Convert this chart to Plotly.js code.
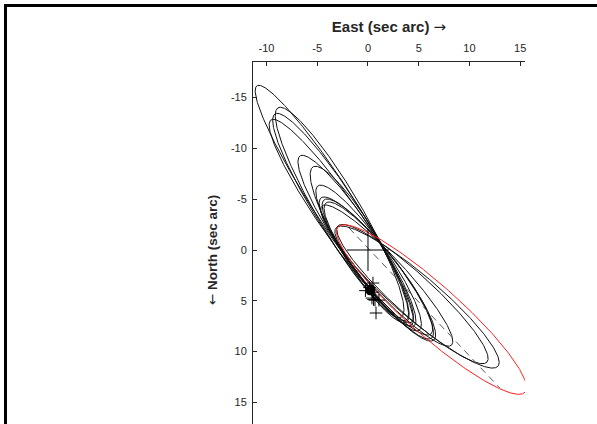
<!DOCTYPE html>
<html>
<head>
<meta charset="utf-8">
<script src="https://cdn.plot.ly/plotly-3.0.1.min.js"></script>
<style>
  html, body { margin: 0; padding: 0; background: #fff; overflow: hidden; }
  #chart { position: absolute; left: 0; top: 0; width: 597px; height: 440px; }
  #frame { position: absolute; left: 4px; top: 4px; width: 593px; height: 420px;
           border-left: 3px solid #000; border-top: 3px solid #000;
           box-sizing: border-box; pointer-events: none; }
</style>
</head>
<body>
<div id="chart"></div>
<div id="frame"></div>
<script>
// Candidate apparent orbits (arcsec). Each orbit is given by the two ends of its
// major axis (north-west end / south-east end) and its semi-minor axis.
const orbitEndAX = [-10.94, -8.87, -9.17, -9.56, -6.70, -5.42, -4.93, -4.63, -4.33, -4.14, -4.53, -2.96, -3.15];
const orbitEndAY = [-16.16, -13.99, -13.39, -12.80, -9.26, -8.18, -6.31, -5.12, -4.93, -4.63, -4.33, -2.36, -2.17];
const orbitEndBX = [4.29, 3.28, 3.77, 4.31, 4.52, 3.78, 5.05, 6.19, 6.27, 6.48, 8.23, 11.72, 12.81];
const orbitEndBY = [7.39, 6.60, 6.90, 7.09, 7.49, 7.09, 7.88, 8.28, 8.67, 8.87, 9.36, 11.03, 11.43];
const orbitMinor = [1.97, 2.12, 2.05, 1.95, 1.84, 1.90, 1.80, 1.82, 1.82, 1.82, 1.77, 1.97, 2.12];

// Adopted orbit (red)
const bestEndA = [-2.96, -2.27];
const bestEndB = [15.47, 13.99];
const bestMinor = 2.51;

// Line of apsides of the adopted orbit
const apsidesX = [-1.87, 13.0];
const apsidesY = [-2.17, 13.6];

// Measured positions of the companion
const obsX = [0.49, -0.25, 0.45, 0.15, 0.39, 0.69, 1.08, 0.55, 0.79];
const obsY = [3.25, 4.00, 4.15, 3.70, 4.73, 4.93, 4.93, 4.88, 6.20];
// Dense group of measurements
const clumpX = [0.22, 0.32, 0.25, 0.30, 0.20, 0.27];
const clumpY = [3.88, 3.92, 4.02, 3.98, 4.05, 3.80];

// Primary star
const primaryX = [0];
const primaryY = [0];

const xTicks = [-10, -5, 0, 5, 10, 15];
const xTickText = ['-10', '-5', '0', '5', '10', '15'];
const yTicks = [-15, -10, -5, 0, 5, 10, 15];
const yTickText = ['-15', '-10', '-5', '0', '5', '10', '15'];

function ellipse(ax, ay, bx, by, minor, out) {
  const cx = (ax + bx) / 2, cy = (ay + by) / 2;
  const dx = bx - ax, dy = by - ay;
  const len = Math.hypot(dx, dy);
  const a = len / 2, ux = dx / len, uy = dy / len;
  const xs = out ? out.x : [], ys = out ? out.y : [];
  for (let i = 0; i <= 360; i++) {
    const t = i * Math.PI / 180;
    const c = Math.cos(t) * a, s = Math.sin(t) * minor;
    xs.push(cx + c * ux - s * uy);
    ys.push(cy + c * uy + s * ux);
  }
  xs.push(null); ys.push(null);
  return { x: xs, y: ys };
}

const family = { x: [], y: [] };
for (let i = 0; i < orbitEndAX.length; i++) {
  ellipse(orbitEndAX[i], orbitEndAY[i], orbitEndBX[i], orbitEndBY[i], orbitMinor[i], family);
}
const best = ellipse(bestEndA[0], bestEndA[1], bestEndB[0], bestEndB[1], bestMinor);

const traces = [
  { type: 'scatter', mode: 'lines', x: family.x, y: family.y,
    line: { color: '#111', width: 1 }, hoverinfo: 'skip', connectgaps: false },
  { type: 'scatter', mode: 'lines', x: best.x, y: best.y,
    line: { color: '#ff2020', width: 1 }, hoverinfo: 'skip' },
  { type: 'scatter', mode: 'lines', x: apsidesX, y: apsidesY,
    line: { color: '#5a5a5a', width: 1, dash: '7px,5px' }, hoverinfo: 'skip' },
  { type: 'scatter', mode: 'markers', x: clumpX, y: clumpY,
    marker: { symbol: 'circle', size: 8, color: '#000', line: { width: 0 } }, hoverinfo: 'skip' },
  { type: 'scatter', mode: 'markers', x: obsX, y: obsY,
    marker: { symbol: 'cross-thin-open', size: 9, color: '#000', line: { color: '#000', width: 1 } }, hoverinfo: 'skip' },
  { type: 'scatter', mode: 'markers', x: primaryX, y: primaryY,
    marker: { symbol: 'cross-thin-open', size: 30, color: '#000', line: { color: '#000', width: 1 } }, hoverinfo: 'skip' }
];

const FONT = 'Liberation Sans, Arial, Helvetica, sans-serif';
const axisCommon = {
  tickmode: 'array',
  ticks: 'inside', ticklen: 4, tickwidth: 1, tickcolor: '#262626',
  showline: true, linecolor: '#262626', linewidth: 1,
  showgrid: false, zeroline: false, automargin: false,
  tickfont: { family: FONT, size: 11, color: '#262626' }
};

const layout = {
  width: 597, height: 440,
  margin: { l: 253, r: 72, t: 62, b: 2 },
  paper_bgcolor: '#fff', plot_bgcolor: '#fff',
  showlegend: false,
  xaxis: Object.assign({}, axisCommon, {
    side: 'top', range: [-11.33, 15.47], tickvals: xTicks, ticktext: xTickText,
    ticklabelstandoff: 5,
    title: { text: '<b>East (sec arc)</b> <span style="font-family:DejaVu Sans">→</span>', standoff: 5,
             font: { family: FONT, size: 15, color: '#262626' } }
  }),
  yaxis: Object.assign({}, axisCommon, {
    range: [18.5, -18.5], tickvals: yTicks, ticktext: yTickText,
    ticklabelstandoff: 3,
    title: { text: '<span style="font-family:DejaVu Sans">←</span> <b>North (sec arc)</b>', standoff: 10,
             font: { family: FONT, size: 13.5, color: '#262626' } }
  })
};

Plotly.newPlot('chart', traces, layout, { staticPlot: true, displayModeBar: false });
</script>
</body>
</html>
